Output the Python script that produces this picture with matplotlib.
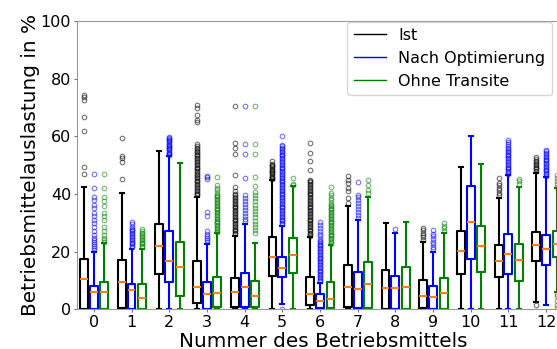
import numpy as np
import matplotlib
matplotlib.use("Agg")
import matplotlib.pyplot as plt
from matplotlib.lines import Line2D

# Betriebsmittel 0..12
machines = list(range(13))

# Ist-Zustand
ist_q1 = [0.3, 0.6, 12.2, 2.1, 0.7, 11.6, 1.5, 0.9, 0.3, 0.6, 12.3, 11.2, 16.8]
ist_med = [10.4, 9.4, 21.8, 7.9, 5.9, 18.3, 5.2, 7.8, 7.3, 4.6, 20.4, 16.9, 22.2]
ist_q3 = [17.5, 17.1, 29.5, 16.8, 10.8, 25.0, 11.1, 15.4, 13.5, 10.1, 27.2, 22.3, 26.8]
ist_lo = [0, 0, 0, 0, 0, 0, 0.3, 0, 0, 0, 0, 0, 2.5]
ist_hi = [42.4, 40.3, 55.0, 39.1, 25.5, 44.7, 25.2, 36.0, 29.9, 23.5, 49.5, 38.5, 47.3]
ist_fliers = [
    [46.8, 49.3, 62.0, 66.8, 72.7, 73.6, 74.4],
    [45.3, 51.0, 52.5, 53.2, 59.3],
    [],
    [39.5, 40, 40.5, 41, 41.5, 42, 42.5, 43, 43.5, 44, 44.5, 45, 45.5, 46, 46.5, 47,
     47.5, 48, 48.5, 49, 49.5, 50, 50.5, 51, 51.5, 52, 52.5, 53, 53.5, 54, 54.5, 55,
     55.5, 56, 56.5, 57.2, 64.8, 65.7, 67.4, 69.7, 70.8],
    [26, 26.5, 27, 27.5, 28, 28.5, 29, 29.5, 30, 30.5, 31, 31.5, 32, 32.5, 33, 33.5,
     34, 34.5, 35, 35.5, 36, 36.5, 37, 37.5, 38, 38.5, 39, 39.5, 40, 41, 42.4,
     46.5, 53.7, 55.9, 57.6, 70.4],
    [45.2, 45.6, 46.0, 46.4, 46.8, 47.2, 47.6, 48.0, 48.4, 48.8, 49.2, 49.6, 50.0,
     50.5, 51.3],
    [25.5, 26, 26.5, 27, 27.5, 28, 28.5, 29, 29.5, 30, 30.5, 31, 31.5, 32, 32.5, 33,
     33.5, 34, 34.5, 35, 35.5, 36, 36.5, 37, 37.5, 38, 38.5, 39, 39.5, 40, 40.5, 41,
     41.5, 42, 42.5, 43, 43.5, 44, 44.5, 45, 48.4, 51.3, 54.2, 57.6],
    [36.8, 38.5, 40.9, 42.0, 43.8, 44.9, 46.4],
    [],
    [24.2, 25.0, 25.8, 26.6, 27.5, 28.3],
    [],
    [39.5, 40.4, 41.3, 42.2, 43.1, 43.8, 45.6],
    [1.5, 48.0, 48.5, 49.0, 49.5, 50.0, 50.5, 51.0, 51.5, 52.2, 52.8],
]

# Nach Optimierung
opt_q1 = [0.3, 0.3, 9.6, 0.3, 0.7, 11.1, 0.6, 0.6, 0.3, 0.3, 17.4, 12.4, 15.3]
opt_med = [5.9, 6.7, 16.9, 5.3, 7.6, 14.5, 2.9, 7.1, 7.3, 4.2, 30.4, 19.3, 21.1]
opt_q3 = [8.2, 8.8, 27.0, 9.6, 12.5, 18.1, 5.3, 13.1, 11.5, 8.2, 42.6, 26.1, 25.9]
opt_lo = [0, 0, 0, 0, 0, 1.9, 0, 0, 0, 0, 0, 0, 1.4]
opt_hi = [20.0, 21.0, 53.0, 22.6, 29.6, 28.9, 9.3, 31.0, 26.4, 20.0, 60.2, 46.5, 45.8]
opt_fliers = [
    [20.6, 21.3, 22.0, 22.7, 23.4, 24.1, 24.8, 25.8, 27.0, 28.7, 29.9, 31.0, 32.2,
     33.3, 35.0, 36.2, 38.0, 39.1, 42.2, 46.8],
    [21.5, 22.0, 22.5, 23.0, 23.5, 24.0, 24.5, 25.0, 25.5, 26.0, 26.5, 27.0, 27.5,
     28.0, 28.7, 29.5, 30.4],
    [53.5, 53.9, 54.3, 54.7, 55.1, 55.5, 55.9, 56.3, 56.7, 57.1, 57.5, 57.9, 58.3,
     58.7, 59.1, 59.5, 59.8],
    [23.2, 23.9, 24.6, 25.3, 26.1, 27.0, 32.2, 33.9, 45.3, 45.8, 46.4],
    [30.5, 31.5, 32.5, 33.5, 34.5, 35.5, 36.5, 37.5, 38.5, 39.5, 45.7, 53.7, 57.3, 70.4],
    [0.3, 29.5, 30, 30.5, 31, 31.5, 32, 32.5, 33, 33.5, 34, 34.5, 35, 35.5, 36, 36.5,
     37, 37.5, 38, 38.5, 39, 39.5, 40, 40.5, 41, 41.5, 42, 42.5, 43, 43.5, 44, 44.5,
     45, 45.5, 46, 46.5, 47, 47.5, 48, 48.5, 49, 49.5, 50, 50.5, 51, 51.5, 52, 52.5,
     53, 53.5, 54, 54.5, 55, 55.5, 56, 56.5, 57, 60.0],
    [9.8, 10.3, 10.8, 11.3, 11.8, 12.3, 12.8, 13.3, 13.8, 14.3, 14.8, 15.3, 15.8,
     16.3, 16.8, 17.3, 17.8, 18.3, 18.8, 19.3, 19.8, 20.3, 20.8, 21.3, 21.8, 22.3,
     22.8, 23.3, 23.8, 24.5, 25.3, 26.2, 27.2, 28.2, 29.2, 30.2],
    [31.8, 32.8, 33.8, 34.8, 35.8, 36.8, 37.8, 38.8, 39.8, 44.3],
    [27.9],
    [20.8, 21.7, 22.6, 23.5, 24.4, 25.3, 26.2, 27.5],
    [],
    [47.0, 47.5, 48.0, 48.5, 49.0, 49.5, 50.0, 50.5, 51.0, 51.5, 52.0, 52.5, 53.0,
     53.5, 54.0, 54.5, 55.0, 55.5, 56.0, 56.6, 57.3, 58.0, 58.6],
    [46.3, 46.8, 47.3, 47.8, 48.3, 48.8, 49.3, 49.8, 50.3, 50.8, 51.3, 51.8, 52.3,
     52.8, 53.3, 53.8, 54.3, 54.8, 55.3],
]

# Ohne Transite
ohne_q1 = [0.3, 0.3, 4.6, 0.7, 0.7, 12.7, 0.6, 0.6, 0.3, 0.3, 13.1, 9.7, 18.2]
ohne_med = [5.9, 3.9, 14.8, 5.6, 4.6, 18.9, 3.7, 8.8, 7.6, 5.8, 22.1, 17.0, 22.8]
ohne_q3 = [9.4, 8.8, 23.3, 11.1, 9.8, 24.7, 9.5, 16.6, 14.6, 11.0, 28.9, 22.6, 27.2]
ohne_lo = [0, 0, 0, 0, 0, 0, 0, 0, 0, 0, 0, 0, 6.0]
ohne_hi = [22.9, 21.0, 50.9, 26.4, 23.1, 42.8, 22.3, 39.1, 30.2, 26.4, 50.3, 42.5, 42.0]
ohne_fliers = [
    [23.5, 24.1, 24.7, 25.8, 27.0, 28.7, 31.0, 32.2, 33.3, 35.9, 37.4, 39.1, 42.2, 46.8],
    [21.5, 22.0, 22.5, 23.0, 23.5, 24.0, 24.5, 25.0, 25.5, 26.0, 26.5, 27.2, 27.9],
    [],
    [26.8, 27.3, 27.8, 28.3, 28.8, 29.3, 29.8, 30.3, 30.8, 31.3, 31.8, 32.3, 32.8,
     33.3, 33.8, 34.3, 34.8, 35.3, 35.8, 36.3, 36.8, 37.3, 37.8, 38.3, 38.8, 39.3,
     39.8, 40.5, 41.3, 42.2, 43.0, 46.0],
    [26.4, 27.5, 28.6, 29.7, 30.8, 31.9, 33.0, 34.1, 35.2, 36.3, 37.4, 38.5, 39.6,
     40.7, 42.6, 45.8, 53.7, 57.4, 70.4],
    [43.0, 43.4, 45.5],
    [22.8, 23.3, 23.8, 24.3, 24.8, 25.3, 25.8, 26.3, 26.8, 27.3, 27.8, 28.3, 28.8,
     29.3, 29.8, 30.3, 30.8, 31.3, 31.8, 32.3, 32.8, 33.3, 33.8, 34.3, 34.8, 35.3,
     35.8, 36.3, 37.0, 37.8, 38.6, 39.5, 40.3, 42.4],
    [40.5, 41.4, 43.0, 44.9],
    [],
    [27.0, 28.1, 29.0, 29.9],
    [],
    [43.5, 44.4, 45.3],
    [0.5, 1.5, 3.0, 4.5, 5.5, 42.5, 43.5, 44.5, 45.5, 46.5],
]

series = [
    ("Ist", "black", -0.26, ist_q1, ist_med, ist_q3, ist_lo, ist_hi, ist_fliers),
    ("Nach Optimierung", "blue", 0.0, opt_q1, opt_med, opt_q3, opt_lo, opt_hi, opt_fliers),
    ("Ohne Transite", "green", 0.28, ohne_q1, ohne_med, ohne_q3, ohne_lo, ohne_hi, ohne_fliers),
]

fig = plt.figure(figsize=(5.57, 3.49), dpi=100)
# axes runs past the right edge of the figure
ax = fig.add_axes([0.138, 0.1135, 0.883, 0.8266])

handles = []
for name, col, off, q1, med, q3, lo, hi, fl in series:
    stats = [dict(q1=a, med=m, q3=b, whislo=l, whishi=h, fliers=f)
             for a, m, b, l, h, f in zip(q1, med, q3, lo, hi, fl)]
    ax.bxp(stats, positions=np.array(machines) + off, widths=0.21,
           showfliers=True, manage_ticks=False,
           boxprops=dict(color=col, linewidth=1.5),
           whiskerprops=dict(color=col, linewidth=1.5),
           capprops=dict(color=col, linewidth=1.5),
           medianprops=dict(color="#ff7f0e", linewidth=1.5),
           flierprops=dict(marker="o", markerfacecolor="none", markeredgecolor=col,
                           markersize=3.3, markeredgewidth=0.8, alpha=0.55))
    handles.append(Line2D([], [], color=col, linewidth=1.0, label=name))

ax.set_xlim(-0.45, 12.6)
ax.set_ylim(0, 100)
ax.set_xticks(machines)
ax.set_xticklabels([str(m) for m in machines])
ax.set_yticks([0, 20, 40, 60, 80, 100])
ax.tick_params(labelsize=11.5, color="0.45", length=2.5, pad=1.7)
for s in ax.spines.values():
    s.set_color("0.6")
ax.set_xlabel("Nummer des Betriebsmittels", fontsize=14.4, labelpad=1)
ax.set_ylabel("Betriebsmittelauslastung in %", fontsize=14.4, labelpad=0.5)

fig.legend(handles=handles, loc="upper right", fontsize=11.5,
           bbox_to_anchor=(552 / 557, 1 - 21.7 / 349), borderaxespad=0)

fig.savefig("out.png", dpi=100)
